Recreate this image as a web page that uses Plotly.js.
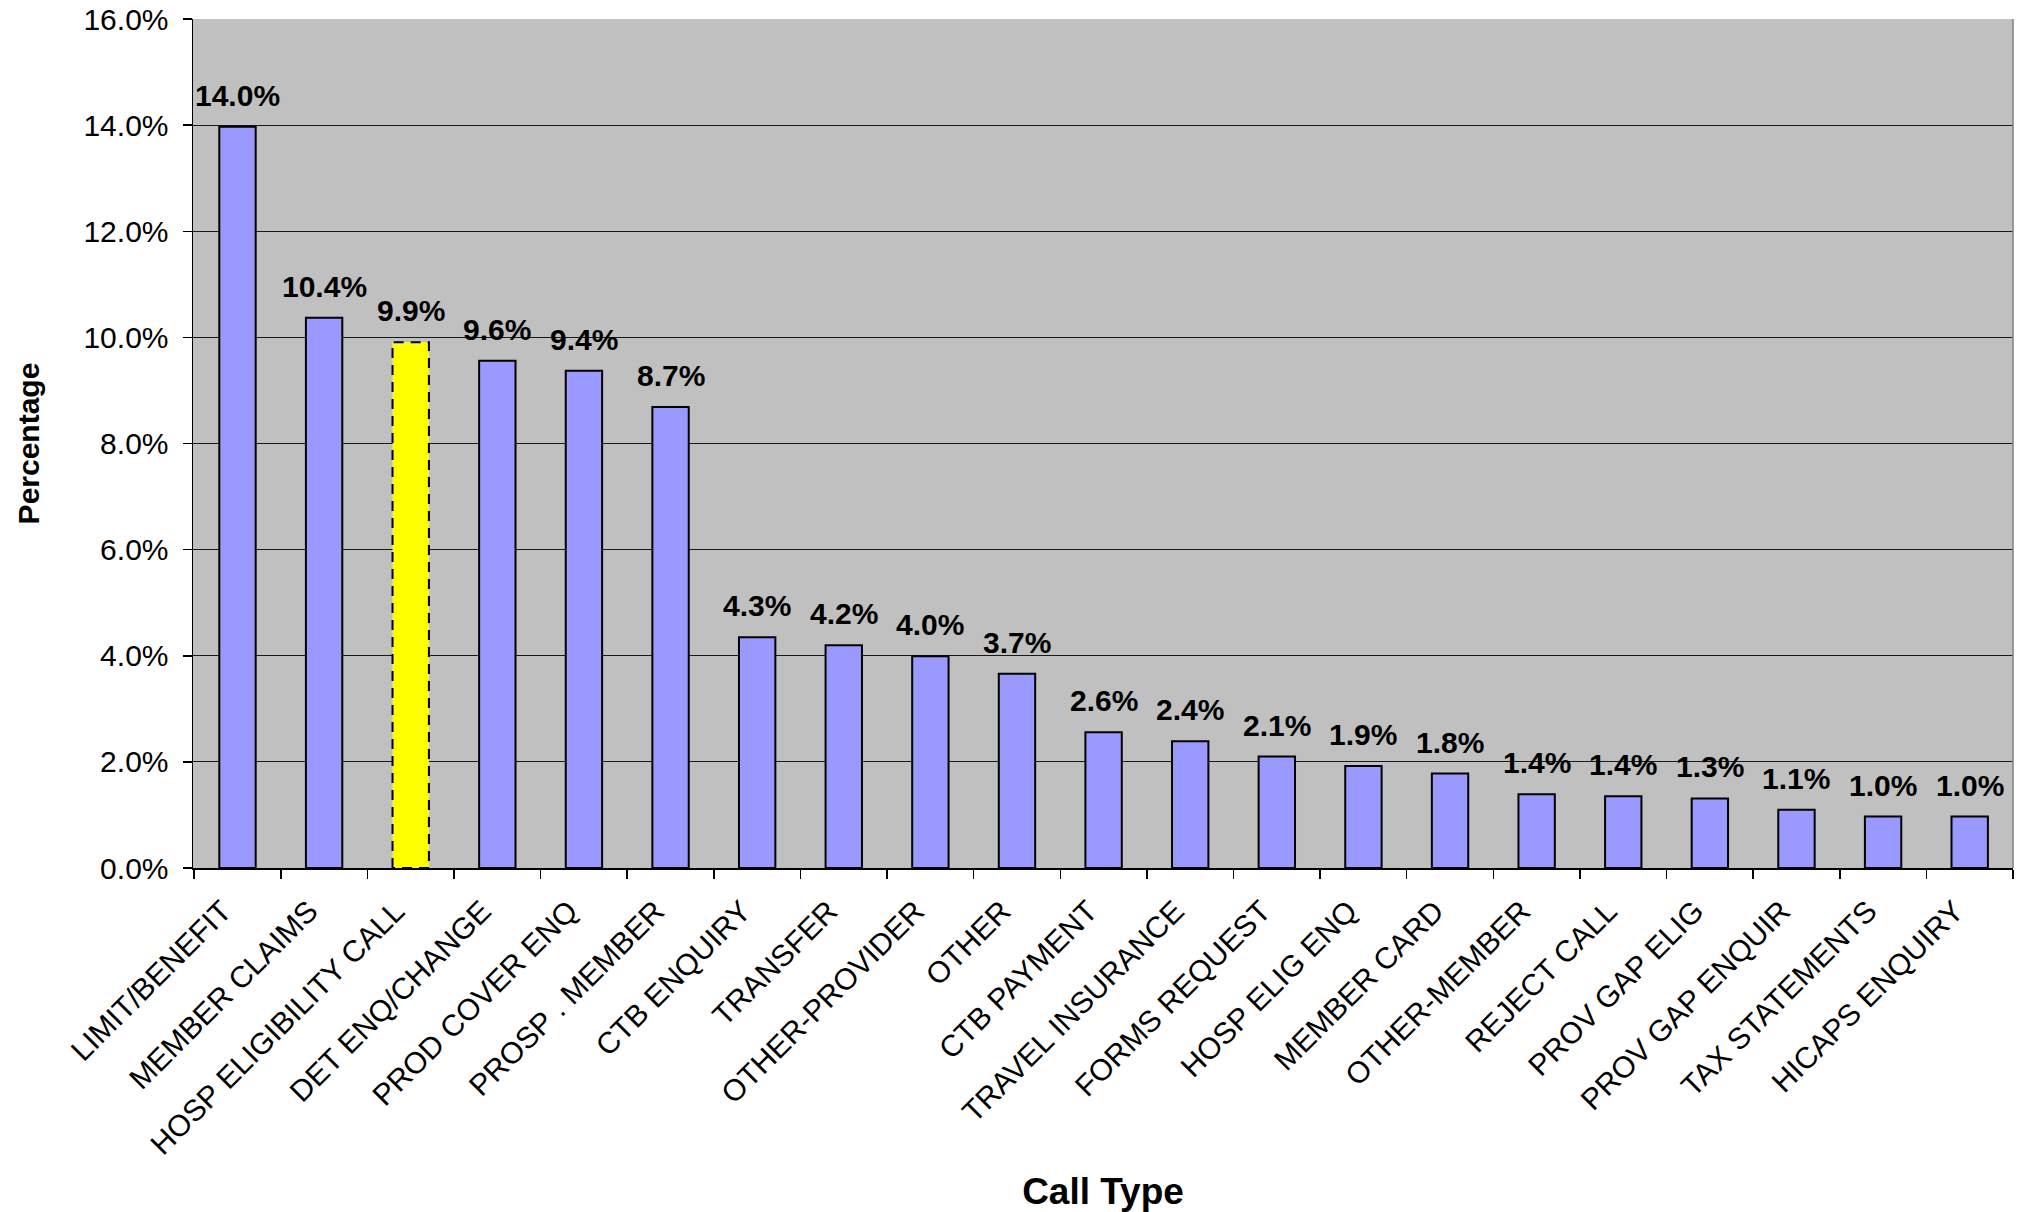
<!DOCTYPE html>
<html>
<head>
<meta charset="utf-8">
<script src="https://cdn.plot.ly/plotly-3.0.1.min.js"></script>
<style>
  html, body { margin: 0; padding: 0; background: #ffffff; }
  #chart { width: 2018px; height: 1212px; }
</style>
</head>
<body>
<div id="chart"></div>
<script>
// ---- Data ----
const categories = [
  "LIMIT/BENEFIT", "MEMBER CLAIMS", "HOSP ELIGIBILITY CALL", "DET ENQ/CHANGE",
  "PROD COVER ENQ", "PROSP . MEMBER", "CTB ENQUIRY", "TRANSFER",
  "OTHER-PROVIDER", "OTHER", "CTB PAYMENT", "TRAVEL INSURANCE",
  "FORMS REQUEST", "HOSP ELIG ENQ", "MEMBER CARD", "OTHER-MEMBER",
  "REJECT CALL", "PROV GAP ELIG", "PROV GAP ENQUIR", "TAX STATEMENTS",
  "HICAPS ENQUIRY"
];
const percentages = [
  13.97, 10.37, 9.91, 9.56,
  9.37, 8.69, 4.35, 4.20,
  3.99, 3.66, 2.56, 2.39,
  2.10, 1.92, 1.78, 1.39,
  1.35, 1.31, 1.10, 0.97,
  0.97
];
const highlighted = "HOSP ELIGIBILITY CALL";
const yTickValues = [0, 2, 4, 6, 8, 10, 12, 14, 16];

// ---- Styling ----
const FONT = "Liberation Sans, Arial, Helvetica, sans-serif";
const barColors = categories.map(c => c === highlighted ? "#FFFF00" : "#9999FF");

const trace = {
  type: "bar",
  x: categories,
  y: percentages,
  marker: { color: barColors, line: { color: "#000000", width: 2 } },
  hoverinfo: "x+y",
  cliponaxis: false
};

const annotations = categories.map((c, i) => ({
  x: c,
  y: percentages[i],
  xref: "x",
  yref: "y",
  text: percentages[i].toFixed(1) + "%",
  showarrow: false,
  yanchor: "bottom",
  xanchor: "center",
  yshift: 13,
  font: { family: FONT, size: 30, color: "#000000", weight: "bold" }
}));

const layout = {
  width: 2018,
  height: 1212,
  margin: { l: 193, r: 5, t: 19, b: 344 },
  paper_bgcolor: "#FFFFFF",
  plot_bgcolor: "#C0C0C0",
  bargap: 0.58,
  showlegend: false,
  font: { family: FONT, size: 30, color: "#000000" },
  xaxis: {
    type: "category",
    tickangle: -45,
    tickson: "boundaries",
    ticks: "outside",
    ticklen: 9,
    tickwidth: 1.5,
    tickcolor: "#000000",
    ticklabelstandoff: 12,
    ticklabelshift: -15,
    showline: true,
    linecolor: "#000000",
    linewidth: 1.5,
    showgrid: false,
    tickfont: { family: FONT, size: 30, color: "#000000" },
    title: {
      text: "Call Type",
      font: { family: FONT, size: 37, color: "#000000", weight: "bold" },
      standoff: 30
    },
    automargin: false,
    fixedrange: true
  },
  yaxis: {
    range: [0, 16],
    tickvals: yTickValues,
    ticktext: yTickValues.map(v => v.toFixed(1) + "%"),
    ticks: "outside",
    ticklen: 9,
    tickwidth: 1.5,
    tickcolor: "#000000",
    ticklabelstandoff: 8,
    showline: true,
    linecolor: "#000000",
    linewidth: 1.5,
    showgrid: true,
    gridcolor: "#1a1a1a",
    gridwidth: 1.2,
    zeroline: false,
    tickfont: { family: FONT, size: 30, color: "#000000" },
    title: {
      text: "Percentage",
      font: { family: FONT, size: 30, color: "#000000", weight: "bold" },
      standoff: 35
    },
    automargin: false,
    fixedrange: true
  },
  shapes: [
    { type: "line", xref: "paper", yref: "paper", x0: 1, x1: 1, y0: 0, y1: 1,
      line: { color: "#808080", width: 1.5 } }
  ],
  annotations: annotations
};

Plotly.newPlot("chart", [trace], layout, { staticPlot: true, displayModeBar: false }).then(gd => {
  // Dashed outline on the highlighted bar, as in the reference
  const idx = categories.indexOf(highlighted);
  const paths = gd.querySelectorAll(".barlayer .trace .point path");
  if (paths[idx]) {
    paths[idx].style.strokeDasharray = "10,7";
  }
});
</script>
</body>
</html>
